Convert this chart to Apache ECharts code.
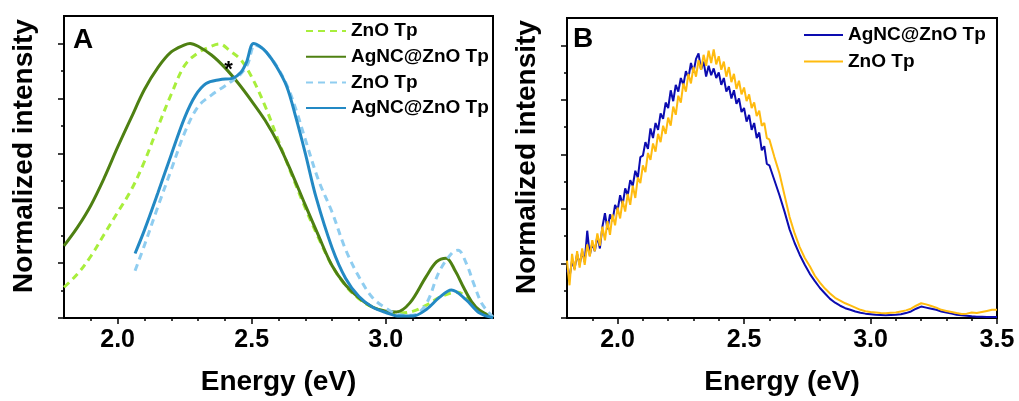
<!DOCTYPE html>
<html><head><meta charset="utf-8">
<script src="https://cdn.jsdelivr.net/npm/echarts@6/dist/echarts.min.js"></script>
<style>html,body{margin:0;padding:0;background:#fff}#c{width:1019px;height:401px}</style>
</head><body><div id="c"></div>
<script>
// ---------- Panel A data ----------
const aZnO1X = [1.80,1.85,1.90,1.95,2.00,2.05,2.10,2.15,2.20,2.25,2.30,2.35,2.38,2.42,2.46,2.50,2.55,2.60,2.65,2.70,2.75,2.80,2.85,2.90,2.95,3.00,3.05,3.10,3.15,3.20,3.24,3.27,3.30,3.35,3.40];
const aZnO1Y = [0.112,0.16,0.225,0.305,0.385,0.465,0.57,0.695,0.815,0.92,0.966,0.99,0.998,0.972,0.94,0.878,0.772,0.645,0.52,0.40,0.29,0.19,0.118,0.07,0.04,0.024,0.018,0.024,0.046,0.075,0.09,0.094,0.075,0.025,0.004];
const aAg1X = [1.80,1.85,1.90,1.95,2.00,2.05,2.10,2.15,2.20,2.25,2.27,2.30,2.35,2.40,2.45,2.50,2.55,2.60,2.65,2.70,2.75,2.80,2.85,2.90,2.95,3.00,3.04,3.09,3.15,3.19,3.225,3.26,3.29,3.32,3.35,3.40];
const aAg1Y = [0.263,0.33,0.41,0.51,0.622,0.728,0.832,0.912,0.969,0.995,1.0,0.99,0.958,0.912,0.855,0.79,0.72,0.634,0.527,0.411,0.298,0.19,0.12,0.073,0.04,0.025,0.022,0.055,0.15,0.205,0.218,0.17,0.112,0.06,0.028,0.002];
const aZnO2X = [2.065,2.10,2.15,2.20,2.25,2.30,2.35,2.40,2.43,2.46,2.485,2.512,2.535,2.56,2.595,2.635,2.67,2.70,2.75,2.80,2.85,2.90,2.95,3.00,3.05,3.10,3.15,3.20,3.25,3.27,3.30,3.33,3.36,3.40];
const aZnO2Y = [0.172,0.265,0.405,0.54,0.675,0.77,0.812,0.845,0.866,0.89,0.925,0.995,0.985,0.962,0.915,0.84,0.745,0.65,0.50,0.385,0.25,0.15,0.075,0.036,0.012,0.01,0.05,0.17,0.24,0.247,0.2,0.12,0.05,0.003];
const aAg2X = [2.065,2.10,2.15,2.20,2.25,2.29,2.33,2.38,2.43,2.46,2.48,2.507,2.53,2.555,2.59,2.63,2.665,2.70,2.74,2.80,2.85,2.90,2.95,3.00,3.05,3.10,3.15,3.20,3.245,3.30,3.35,3.40];
const aAg2Y = [0.235,0.32,0.455,0.595,0.73,0.81,0.854,0.868,0.874,0.895,0.93,1.0,0.99,0.968,0.92,0.845,0.73,0.6,0.44,0.255,0.145,0.078,0.04,0.02,0.007,0.007,0.03,0.075,0.102,0.066,0.018,0.001];
const starPoint = [2.414, 0.927];

// ---------- Panel B data ----------
const bAgX = [1.80,1.81,1.82,1.83,1.84,1.85,1.86,1.87,1.88,1.89,1.90,1.91,1.92,1.93,1.94,1.95,1.96,1.97,1.98,1.99,2.00,2.01,2.02,2.03,2.04,2.05,2.06,2.07,2.08,2.09,2.10,2.11,2.12,2.13,2.14,2.15,2.16,2.17,2.18,2.19,2.20,2.21,2.22,2.23,2.24,2.25,2.26,2.27,2.28,2.29,2.30,2.31,2.32,2.33,2.34,2.35,2.36,2.37,2.38,2.39,2.40,2.41,2.42,2.43,2.44,2.45,2.46,2.47,2.48,2.49,2.50,2.51,2.52,2.53,2.54,2.55,2.56,2.57,2.58,2.59,2.60,
  2.62,2.64,2.66,2.68,2.70,2.72,2.74,2.76,2.78,2.80,2.82,2.84,2.86,2.88,2.90,2.92,2.94,2.96,2.98,3.00,3.02,3.04,3.06,3.08,3.10,3.12,3.14,3.16,3.18,3.20,3.22,3.24,3.26,3.28,3.30,3.32,3.34,3.36,3.38,3.40,3.42,3.44,3.46,3.48,3.50];
const bAgY = [0.175,0.15,0.21,0.18,0.235,0.195,0.245,0.205,0.32,0.23,
  0.275,0.245,0.3,0.255,0.335,0.384,0.325,0.38,0.355,0.415,
  0.395,0.45,0.415,0.475,0.45,0.505,0.485,0.54,0.515,0.59,
  0.595,0.645,0.62,0.695,0.66,0.715,0.69,0.75,0.73,0.79,
  0.77,0.835,0.795,0.855,0.83,0.88,0.855,0.905,0.88,0.935,
  0.9,0.95,0.97,0.91,0.94,0.885,0.925,0.89,0.915,0.88,
  0.9,0.855,0.88,0.83,0.85,0.805,0.835,0.785,0.805,0.755,
  0.77,0.72,0.745,0.69,0.715,0.66,0.68,0.615,0.63,0.565,0.56,
  0.505,0.45,0.39,0.325,0.275,0.232,0.195,0.162,0.135,0.11,0.09,0.07,0.056,0.045,0.036,0.03,0.024,0.019,0.016,0.014,0.012,0.011,0.01,0.011,0.012,0.014,0.018,0.024,0.034,0.042,0.038,0.034,0.03,0.024,0.02,0.016,0.012,0.01,0.008,0.006,0.005,0.005,0.004,0.004,0.004];
const bZnOX = bAgX;
const bZnOY = [0.21,0.12,0.235,0.175,0.245,0.185,0.255,0.195,0.27,0.225,
  0.285,0.245,0.31,0.265,0.335,0.285,0.355,0.305,0.38,0.34,
  0.405,0.365,0.43,0.39,0.455,0.415,0.485,0.44,0.515,0.495,
  0.56,0.535,0.605,0.58,0.64,0.61,0.675,0.645,0.705,0.675,
  0.735,0.705,0.775,0.745,0.815,0.79,0.86,0.83,0.895,0.86,
  0.92,0.885,0.945,0.91,0.965,0.925,0.98,0.935,0.985,0.93,
  0.96,0.91,0.94,0.885,0.92,0.865,0.895,0.84,0.87,0.82,
  0.845,0.795,0.82,0.77,0.79,0.74,0.76,0.705,0.715,0.66,0.655,
  0.59,0.53,0.45,0.37,0.31,0.26,0.22,0.19,0.155,0.13,0.108,0.09,0.074,0.064,0.054,0.046,0.038,0.03,0.025,0.022,0.02,0.018,0.017,0.019,0.02,0.024,0.028,0.034,0.045,0.054,0.05,0.044,0.038,0.03,0.026,0.022,0.018,0.015,0.016,0.02,0.018,0.022,0.026,0.03,0.03];

// ---------- ticks ----------
const xMajorA = [2.0,2.5,3.0];
const xMinorA = [1.9,2.1,2.2,2.3,2.4,2.6,2.7,2.8,2.9,3.1,3.2,3.3];
const xMajorB = [2.0,2.5,3.0,3.5];
const xMinorB = [1.9,2.1,2.2,2.3,2.4,2.6,2.7,2.8,2.9,3.1,3.2,3.3,3.4];
const yMajor = [0,0.2,0.4,0.6,0.8,1.0];
const yMinor = [0.1,0.3,0.5,0.7,0.9];

const FONT = 'Liberation Sans, Arial, sans-serif';
const zip = (xs, ys) => xs.map((x, i) => [x, ys[i]]);

function xAxes(gi, min, max, majors, minors) {
  return [{
    gridIndex: gi, type: 'value', min, max, position: 'bottom',
    axisLine: { show: true, lineStyle: { color: '#000', width: 2 } },
    axisTick: { show: true, customValues: majors, length: 6, lineStyle: { color: '#000', width: 1.5 } },
    axisLabel: { show: true, customValues: majors, formatter: v => v.toFixed(1), fontSize: 25, fontWeight: 'bold', color: '#000', fontFamily: FONT, margin: 10 },
    splitLine: { show: false },
    name: 'Energy (eV)', nameLocation: 'middle', nameGap: 50,
    nameTextStyle: { fontSize: 28, fontWeight: 'bold', color: '#000', fontFamily: FONT }
  }, {
    gridIndex: gi, type: 'value', min, max, position: 'bottom',
    axisLine: { show: false },
    axisTick: { show: true, customValues: minors, length: 3, lineStyle: { color: '#000', width: 1.5 } },
    axisLabel: { show: false }, splitLine: { show: false }
  }];
}
function yAxes(gi) {
  return [{
    gridIndex: gi, type: 'value', min: 0, max: 1.1, position: 'left',
    axisLine: { show: true, lineStyle: { color: '#000', width: 2 } },
    axisTick: { show: true, customValues: yMajor, length: 6, lineStyle: { color: '#000', width: 1.5 } },
    axisLabel: { show: false }, splitLine: { show: false },
    name: 'Normalized intensity', nameLocation: 'middle', nameGap: 26,
    nameTextStyle: { fontSize: 28, fontWeight: 'bold', color: '#000', fontFamily: FONT, padding: [0, 0, 0, 22] }
  }, {
    gridIndex: gi, type: 'value', min: 0, max: 1.1, position: 'left',
    axisLine: { show: false },
    axisTick: { show: true, customValues: yMinor, length: 3, lineStyle: { color: '#000', width: 1.5 } },
    axisLabel: { show: false }, splitLine: { show: false }
  }];
}
function line(name, xi, yi, xs, ys, color, width, dashed, extra) {
  return Object.assign({
    name, type: 'line', xAxisIndex: xi, yAxisIndex: yi, data: zip(xs, ys),
    showSymbol: false, symbol: 'none', smooth: 0.35, clip: true,
    lineStyle: { color, width, type: dashed ? [7, 5] : 'solid' },
    itemStyle: { color }, emphasis: { disabled: true }, z: 2
  }, extra || {});
}

const legendText = { fontSize: 19, fontWeight: 'bold', color: '#000', fontFamily: FONT, lineHeight: 18 };
const legendItem = { opacity: 0, borderWidth: 0 };

const option = {
  animation: false,
  backgroundColor: '#fff',
  grid: [
    { left: 64, top: 16, width: 429, height: 306.5, show: true, borderColor: '#000', borderWidth: 2, backgroundColor: 'transparent' },
    { left: 567, top: 18, width: 430, height: 304.5, show: true, borderColor: '#000', borderWidth: 2, backgroundColor: 'transparent' }
  ],
  xAxis: [...xAxes(0, 1.8, 3.4, xMajorA, xMinorA), ...xAxes(1, 1.8, 3.5, xMajorB, xMinorB)],
  yAxis: [...yAxes(0), ...yAxes(1)],
  legend: [
    { orient: 'vertical', left: 300, top: 16.5, itemWidth: 40, itemHeight: 12, itemGap: 6.7,
      data: ['ZnO Tp#a1', 'AgNC@ZnO Tp#a1', 'ZnO Tp#a2', 'AgNC@ZnO Tp#a2'],
      formatter: n => n.split('#')[0], textStyle: legendText, itemStyle: legendItem, selectedMode: false },
    { orient: 'vertical', left: 798, top: 20.5, itemWidth: 39, itemHeight: 12, itemGap: 7.6,
      data: ['AgNC@ZnO Tp#b', 'ZnO Tp#b'],
      formatter: n => n.split('#')[0], textStyle: legendText, itemStyle: legendItem, selectedMode: false }
  ],
  graphic: [
    { type: 'text', style: { x: 83, y: 40, text: 'A', font: 'bold 28px ' + FONT, fill: '#000', textAlign: 'center', textVerticalAlign: 'middle' } },
    { type: 'text', style: { x: 583, y: 39, text: 'B', font: 'bold 28px ' + FONT, fill: '#000', textAlign: 'center', textVerticalAlign: 'middle' } }
  ],
  series: [
    line('ZnO Tp#a1', 0, 0, aZnO1X, aZnO1Y, '#a8ee3c', 3, true),
    line('AgNC@ZnO Tp#a1', 0, 0, aAg1X, aAg1Y, '#4e8012', 3, false, {
      markPoint: { symbol: 'circle', symbolSize: 1, itemStyle: { color: 'rgba(0,0,0,0)' },
        label: { show: true, formatter: '*', fontSize: 22, fontWeight: 'bold', color: '#000', fontFamily: FONT, position: 'inside', offset: [0, 6] },
        data: [{ coord: starPoint }] }
    }),
    line('ZnO Tp#a2', 0, 0, aZnO2X, aZnO2Y, '#8fcdf0', 3, true),
    line('AgNC@ZnO Tp#a2', 0, 0, aAg2X, aAg2Y, '#2389c4', 3, false),
    line('AgNC@ZnO Tp#b', 2, 2, bAgX, bAgY, '#0c0cb0', 2, false, { smooth: false }),
    line('ZnO Tp#b', 2, 2, bZnOX, bZnOY, '#ffbb0f', 2, false, { smooth: false })
  ]
};
const chart = echarts.init(document.getElementById('c'), null, { renderer: 'canvas' });
chart.setOption(option);
</script></body></html>
